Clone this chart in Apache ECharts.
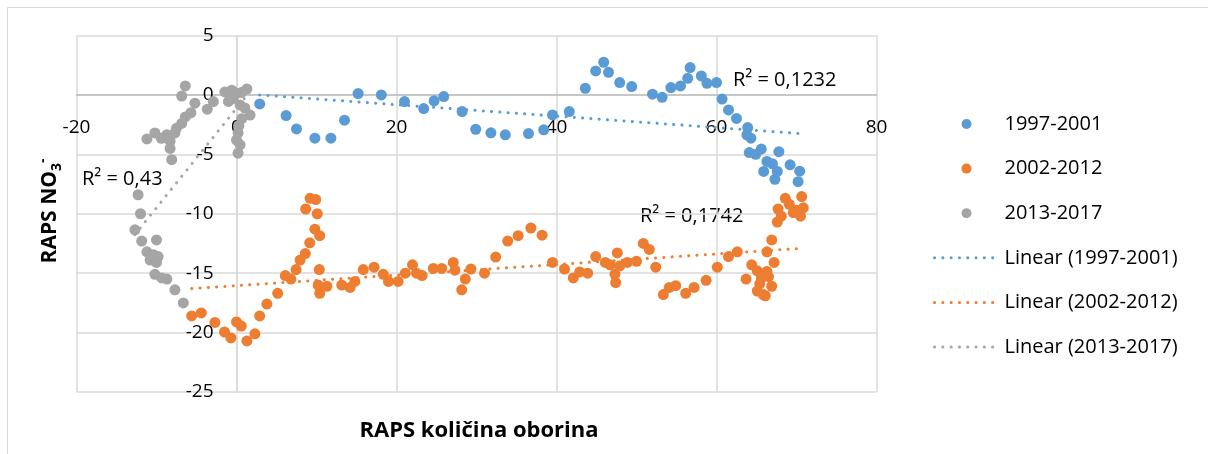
<!DOCTYPE html>
<html>
<head>
<meta charset="utf-8">
<script src="https://cdn.jsdelivr.net/npm/echarts@6/dist/echarts.min.js"></script>
<style>
  html, body { margin: 0; padding: 0; background: #fff; }
  #chart { width: 1208px; height: 454px; }
</style>
</head>
<body>
<div id="chart"></div>
<script>
// RAPS of precipitation (x) against RAPS of nitrate (y), three periods
const seriesNames = ['1997-2001', '2002-2012', '2013-2017'];
const trendNames = ['Linear (1997-2001)', 'Linear (2002-2012)', 'Linear (2013-2017)'];
const r2Labels = ['R\u00B2 = 0,1232', 'R\u00B2 = 0,1742', 'R\u00B2 = 0,43'];
const xTicks = [-20, 0, 20, 40, 60, 80];
const yTicks = [-25, -20, -15, -10, -5, 0, 5];

const points1997 = [
  [2.9,-0.76],[6.2,-1.74],[7.5,-2.86],[9.8,-3.64],[11.8,-3.64],[13.5,-2.13],[15.2,0.11],[18.1,0.0],
  [21.0,-0.56],[23.4,-1.15],[24.7,-0.5],[25.9,-0.14],[28.2,-1.4],[29.9,-2.89],[31.8,-3.19],[33.6,-3.36],
  [36.5,-3.25],[38.4,-2.94],[39.5,-1.68],[41.6,-1.4],[43.6,0.56],[44.9,2.02],[45.9,2.75],[46.5,1.9],
  [47.9,1.04],[49.4,0.7],[52.0,0.06],[53.2,-0.2],[54.3,0.62],[55.5,0.76],[56.4,1.4],[56.7,2.3],
  [58.1,1.6],[58.8,0.98],[60.0,1.04],[60.7,-0.35],[61.5,-1.26],[62.5,-1.98],[63.9,-2.75],[63.8,-3.36],
  [64.3,-3.64],[64.1,-4.85],[64.9,-5.0],[65.6,-4.56],[66.3,-5.6],[67.0,-5.8],[67.8,-4.78],[65.9,-6.44],
  [67.3,-7.1],[67.6,-6.44],[69.2,-5.88],[70.4,-6.42],[70.2,-7.3]
];

const points2002 = [
  [-5.6,-18.6],[-4.4,-18.35],[-2.7,-19.15],[-1.5,-19.95],[-0.7,-20.45],[0.0,-19.1],[0.6,-19.45],[1.3,-20.7],
  [2.3,-20.1],[2.9,-18.6],[3.8,-17.6],[5.15,-16.7],[6.1,-15.2],[6.8,-15.5],[7.45,-14.7],[7.95,-13.9],
  [8.6,-13.35],[9.15,-12.45],[8.65,-9.6],[9.2,-8.7],[9.9,-8.8],[10.1,-10.0],[9.8,-11.3],[10.4,-11.85],
  [10.35,-14.7],[10.2,-16.0],[10.4,-16.7],[11.3,-16.1],[13.15,-16.0],[14.2,-16.2],[14.8,-15.7],[15.85,-14.7],
  [17.2,-14.5],[18.35,-15.1],[19.0,-15.7],[20.2,-15.7],[21.1,-15.0],[22.0,-14.3],[22.5,-15.0],[23.2,-15.2],
  [24.6,-14.6],[25.65,-14.6],[27.1,-14.1],[27.3,-14.75],[28.6,-15.5],[28.15,-16.4],[29.3,-14.65],[31.0,-15.0],
  [32.4,-13.65],[33.9,-12.3],[35.2,-11.85],[36.8,-11.2],[38.2,-11.8],[39.5,-14.1],[41.0,-14.65],[42.1,-15.4],
  [42.9,-14.9],[43.9,-15.0],[44.9,-13.6],[46.1,-14.1],[46.7,-14.3],[47.6,-13.3],[47.3,-15.1],[47.4,-15.8],
  [47.9,-14.4],[48.85,-14.1],[50.0,-14.0],[50.85,-12.5],[51.6,-13.0],[52.4,-14.5],[53.35,-16.8],[54.1,-16.2],
  [54.9,-16.05],[56.15,-16.7],[57.2,-16.2],[58.7,-15.6],[60.1,-14.5],[61.5,-13.6],[62.6,-13.2],[63.7,-15.5],
  [64.4,-14.3],[65.1,-14.8],[65.4,-15.9],[65.85,-16.8],[66.5,-15.3],[66.9,-16.1],[67.2,-14.1],[66.3,-13.2],
  [66.9,-12.2],[67.6,-10.7],[67.7,-9.6],[68.6,-8.7],[69.1,-9.2],[69.6,-9.9],[70.0,-9.7],[70.65,-8.55],
  [70.85,-9.5],[70.5,-10.2],[68.1,-10.2],[65.1,-16.5],[66.1,-16.9],[66.3,-14.85],[65.6,-15.4]
];

const points2013 = [
  [-6.4,0.76],[-6.85,-0.1],[-5.2,-0.7],[-3.65,-1.2],[-2.9,-0.56],[-5.7,-1.5],[-6.4,-1.85],[-6.85,-2.4],
  [-7.5,-2.8],[-7.7,-3.2],[-8.7,-3.35],[-10.2,-3.2],[-11.2,-3.7],[-9.4,-3.65],[-8.3,-3.9],[-8.3,-4.5],
  [-8.1,-5.45],[-12.3,-8.4],[-12.0,-10.0],[-12.7,-11.35],[-11.85,-12.3],[-10.0,-12.2],[-11.2,-13.2],[-10.4,-13.45],
  [-9.8,-13.6],[-10.8,-13.9],[-10.0,-14.1],[-10.2,-15.1],[-9.35,-15.4],[-8.7,-15.5],[-7.7,-16.4],[-6.65,-17.5],
  [-1.45,0.25],[-0.6,0.4],[0.0,0.15],[1.3,0.5],[0.6,0.2],[-0.4,-0.3],[-1.0,-0.55],[0.45,-0.85],
  [1.05,-1.1],[1.7,-1.7],[0.65,-2.0],[0.3,-2.6],[0.2,-3.2],[0.0,-3.8],[0.45,-4.2],[0.2,-4.9]
];

// Fitted linear trend lines, end points over each period's x range
const trend1997 = [[2.9, 0.0], [70.4, -3.25]];
const trend2002 = [[-5.6, -16.3], [70.85, -12.9]];
const trend2013 = [[-12.7, -11.75], [1.7, 0.3]];

const colors = ['#5B9BD5', '#ED7D31', '#A5A5A5'];
const FONT = '"Open Sans", "Noto Sans", sans-serif';
const DOTS = { width: 3, type: [0.1, 8.2], cap: 'round' };

const chart = echarts.init(document.getElementById('chart'), null, { renderer: 'canvas' });

function trendSeries(name, data, color) {
  return {
    name: name, type: 'line', data: data, symbol: 'none', showSymbol: false, silent: true, z: 1,
    lineStyle: Object.assign({ color: color }, DOTS),
    itemStyle: { color: color }
  };
}
function pointSeries(name, data, color) {
  return {
    name: name, type: 'scatter', data: data, symbol: 'circle', symbolSize: 11, z: 3,
    itemStyle: { color: color, opacity: 1 }
  };
}

// Grid box: x from -20 to 80, y from -25 to 5; axes cross at the origin
const GRID = { left: 76.5, right: 331.5, top: 35.5, bottom: 62 };
const plotW = 1208 - GRID.left - GRID.right;
const plotH = 454 - GRID.top - GRID.bottom;
const xZeroShift = plotW * (0 - xTicks[0]) / (xTicks[xTicks.length - 1] - xTicks[0]);
const yZeroShift = plotH * (0 - yTicks[0]) / (yTicks[yTicks.length - 1] - yTicks[0]);

const option = {
  animation: false,
  backgroundColor: '#ffffff',
  grid: GRID,
  xAxis: {
    type: 'value', min: xTicks[0], max: xTicks[xTicks.length - 1], interval: 20,
    position: 'bottom', offset: -yZeroShift,
    axisLine: { show: true, onZero: false, lineStyle: { color: '#bfbfbf', width: 1.5 } },
    axisTick: { show: false },
    axisLabel: { margin: 23, fontFamily: FONT, fontSize: 19, color: '#000' },
    splitLine: { show: true, lineStyle: { color: '#d9d9d9', width: 1.5 } }
  },
  yAxis: {
    type: 'value', min: yTicks[0], max: yTicks[yTicks.length - 1], interval: 5,
    position: 'left', offset: -xZeroShift,
    axisLine: { show: true, onZero: false, lineStyle: { color: '#d9d9d9', width: 1.5 } },
    axisTick: { show: false },
    axisLabel: { margin: 23, fontFamily: FONT, fontSize: 19, color: '#000' },
    splitLine: { show: true, lineStyle: { color: '#d9d9d9', width: 1.5 } }
  },
  legend: {
    orient: 'vertical', left: 928, top: 109,
    itemWidth: 64, itemHeight: 10, itemGap: 24.6,
    selectedMode: false,
    textStyle: { fontFamily: FONT, fontSize: 20, color: '#000', lineHeight: 20, padding: [0, 0, 0, 1] },
    data: seriesNames.concat(trendNames.map(function (n, i) {
      return { name: n, itemStyle: { opacity: 0 }, lineStyle: Object.assign({ color: colors[i] }, DOTS) };
    }))
  },
  series: [
    trendSeries(trendNames[0], trend1997, colors[0]),
    trendSeries(trendNames[1], trend2002, colors[1]),
    trendSeries(trendNames[2], trend2013, colors[2]),
    pointSeries(seriesNames[0], points1997, colors[0]),
    pointSeries(seriesNames[1], points2002, colors[1]),
    pointSeries(seriesNames[2], points2013, colors[2])
  ],
  graphic: [
    { type: 'rect', silent: true, z: -1,
      shape: { x: 7.5, y: 7.5, width: 1300, height: 500 },
      style: { fill: 'none', stroke: '#d9d9d9', lineWidth: 1 } },
    { type: 'text', x: 479, y: 431,
      style: { text: 'RAPS količina oborina', font: 'bold 22px ' + FONT, fill: '#000',
               align: 'center', verticalAlign: 'middle' } },
    { type: 'text', x: 50, y: 211, rotation: Math.PI / 2,
      style: {
        text: '{a|RAPS NO}{b|3}{c|-}', align: 'center', verticalAlign: 'middle',
        rich: {
          a: { font: 'bold 21px ' + FONT, fill: '#000', lineHeight: 28 },
          b: { font: 'bold 14px ' + FONT, fill: '#000', lineHeight: 14, verticalAlign: 'bottom' },
          c: { font: 'bold 14px ' + FONT, fill: '#000', lineHeight: 14, verticalAlign: 'top' }
        }
      } },
    { type: 'text', x: 733, y: 80,
      style: { text: r2Labels[0], font: '20px ' + FONT, fill: '#000', verticalAlign: 'middle' } },
    { type: 'text', x: 640, y: 216,
      style: { text: r2Labels[1], font: '20px ' + FONT, fill: '#000', verticalAlign: 'middle' } },
    { type: 'text', x: 82, y: 179,
      style: { text: r2Labels[2], font: '20px ' + FONT, fill: '#000', verticalAlign: 'middle' } }
  ]
};

chart.setOption(option);
</script>
</body>
</html>
